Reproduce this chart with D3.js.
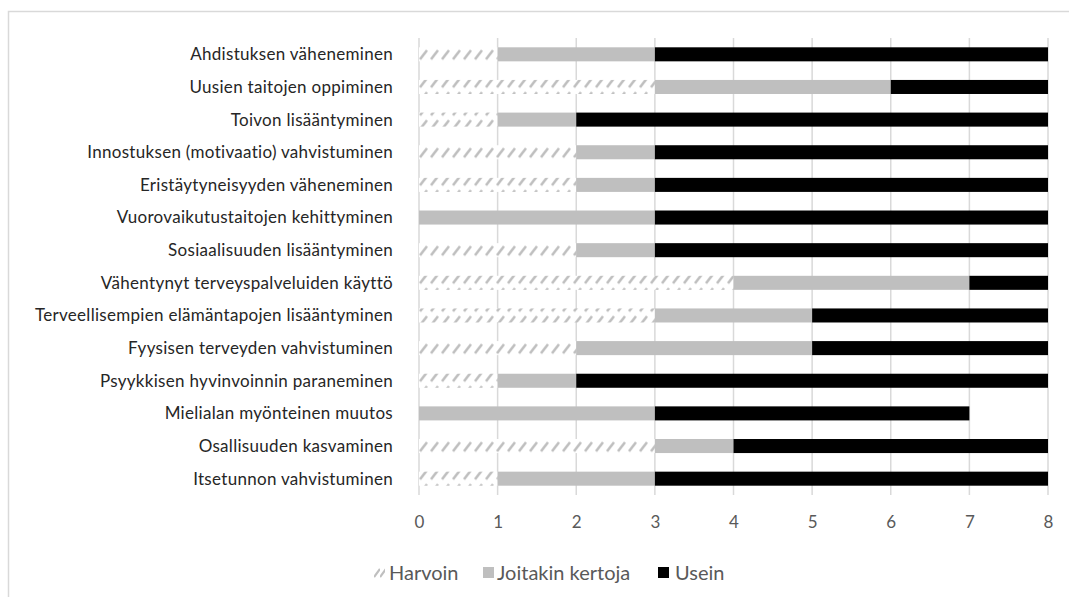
<!DOCTYPE html>
<html><head><meta charset="utf-8">
<script src="https://cdn.jsdelivr.net/npm/d3@7"></script>
<style>
body{margin:0;background:#fff;}
svg{display:block;}
text{font-family:Lato,"Open Sans",sans-serif;}
</style></head>
<body>
<svg id="chart" width="1069" height="597"></svg>
<script>
const categories = [
  "Ahdistuksen väheneminen",
  "Uusien taitojen oppiminen",
  "Toivon lisääntyminen",
  "Innostuksen (motivaatio) vahvistuminen",
  "Eristäytyneisyyden väheneminen",
  "Vuorovaikutustaitojen kehittyminen",
  "Sosiaalisuuden lisääntyminen",
  "Vähentynyt terveyspalveluiden käyttö",
  "Terveellisempien elämäntapojen lisääntyminen",
  "Fyysisen terveyden vahvistuminen",
  "Psyykkisen hyvinvoinnin paraneminen",
  "Mielialan myönteinen muutos",
  "Osallisuuden kasvaminen",
  "Itsetunnon vahvistuminen"
];
const harvoin =         [1,3,1,2,2,0,2,4,3,2,1,0,3,1];
const joitakinKertoja = [2,3,1,1,1,3,1,3,2,3,1,3,1,2];
const usein =           [5,2,6,5,5,5,5,1,3,3,6,4,4,5];
const seriesNames = ["Harvoin","Joitakin kertoja","Usein"];
const xTicks = [0,1,2,3,4,5,6,7,8];

const svg = d3.select("#chart");
const W = 1069, H = 597;

const defs = svg.append("defs");
const pat = defs.append("pattern").attr("id","hatch").attr("patternUnits","userSpaceOnUse")
  .attr("width",11).attr("height",14).attr("y",0);
pat.append("rect").attr("width",11).attr("height",14).attr("fill","#fff");
pat.append("line").attr("x1",2).attr("y1",12).attr("x2",9).attr("y2",3)
  .attr("stroke","#bfbfbf").attr("stroke-width",2.6).attr("stroke-linecap","butt");

const patL = defs.append("pattern").attr("id","hatchL").attr("patternUnits","userSpaceOnUse")
  .attr("width",6).attr("height",11).attr("x",374).attr("y",567);
patL.append("line").attr("x1",0).attr("y1",10).attr("x2",6).attr("y2",2)
  .attr("stroke","#bfbfbf").attr("stroke-width",2.2);

svg.append("rect").attr("x",8.5).attr("y",11.5).attr("width",W).attr("height",H)
  .attr("fill","none").attr("stroke","#d9d9d9").attr("stroke-width",1.5);

const x = d3.scaleLinear().domain([0,8]).range([419,1048]);
const y = d3.scaleBand().domain(categories).range([38,495]).paddingInner(0.57).paddingOuter(0.285);

svg.append("g").selectAll("line").data(xTicks).join("line")
  .attr("x1",d=>x(d)).attr("x2",d=>x(d)).attr("y1",38).attr("y2",495)
  .attr("stroke","#d9d9d9").attr("stroke-width",1.5);

const stackData = categories.map((c,i)=>({cat:c, Harvoin:harvoin[i], "Joitakin kertoja":joitakinKertoja[i], Usein:usein[i]}));
const stack = d3.stack().keys(seriesNames)(stackData);
const fills = {"Harvoin":"url(#hatch)","Joitakin kertoja":"#bfbfbf","Usein":"#000000"};

const rowsG = svg.append("g");
stack.forEach(s=>{
  rowsG.append("g").selectAll("rect").data(s).join("rect")
    .attr("x",d=>x(d[0])).attr("width",d=>x(d[1])-x(d[0]))
    .attr("y",d=>y(d.data.cat)).attr("height",y.bandwidth())
    .attr("fill",fills[s.key]);
});
pat.attr("y", y(categories[0]));

svg.append("g").selectAll("text").data(categories).join("text")
  .attr("x",393).attr("y",d=>y(d)+y.bandwidth()/2).attr("dy","0.35em")
  .attr("text-anchor","end").attr("font-size",17).attr("letter-spacing",0.3)
  .attr("fill","#262626").text(d=>d);

const xAxis = d3.axisBottom(x).tickValues(xTicks).tickSize(0).tickPadding(0).tickFormat(d3.format("d"));
const gx = svg.append("g").attr("transform","translate(0,522)").call(xAxis);
gx.select(".domain").remove();
gx.selectAll("text").attr("font-size",17).attr("fill","#595959").attr("dy","0.35em")
  .attr("font-family","Lato,sans-serif");

const legend = [
  {name:"Harvoin", sx:374, tx:389},
  {name:"Joitakin kertoja", sx:483, tx:497},
  {name:"Usein", sx:658, tx:675}
];
const lg = svg.append("g");
legend.forEach(l=>{
  lg.append("rect").attr("x",l.sx).attr("y",567).attr("width",11).attr("height",11)
    .attr("fill", l.name==="Harvoin" ? "url(#hatchL)" : fills[l.name]);
  lg.append("text").attr("x",l.tx).attr("y",573).attr("dy","0.35em").attr("font-size",20)
    .attr("fill","#595959").text(l.name);
});
</script>
</body></html>
